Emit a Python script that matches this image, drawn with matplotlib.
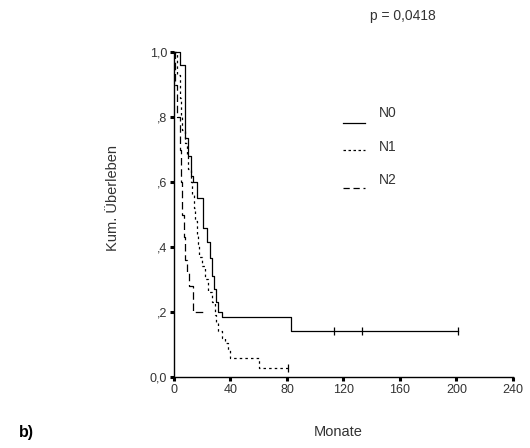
import matplotlib
matplotlib.use("Agg")
import matplotlib.pyplot as plt
from matplotlib.lines import Line2D

plt.rcParams['font.family'] = ['Liberation Sans', 'DejaVu Sans']

# Kaplan-Meier steps (months, cumulative survival)
n0_t = [0, 4, 8, 10, 12, 13.5, 16, 20.5, 23.5, 25.5, 27, 28, 30, 31.5, 34, 83, 201]
n0_s = [1.0, 0.96, 0.735, 0.68, 0.62, 0.60, 0.55, 0.46, 0.415, 0.366, 0.31, 0.27, 0.23, 0.20, 0.185, 0.142, 0.142]
n0_cens_t = [113, 133, 201]
n0_cens_s = [0.142, 0.142, 0.142]

n1_t = [0, 2, 4, 5, 6, 8, 9, 10, 12, 13, 14, 15, 16, 17, 18, 20, 22, 24, 27, 29, 30, 31, 34, 36, 38, 40, 60, 81]
n1_s = [1.0, 0.93, 0.86, 0.80, 0.76, 0.72, 0.68, 0.64, 0.60, 0.56, 0.52, 0.48, 0.44, 0.41, 0.37, 0.34,
        0.30, 0.26, 0.23, 0.19, 0.166, 0.14, 0.12, 0.105, 0.083, 0.058, 0.028, 0.028]
n1_cens_t = [81]
n1_cens_s = [0.028]

n2_t = [0, 1, 2, 4, 5, 6, 7, 8, 9, 10.5, 13.5, 20.5]
n2_s = [1.0, 0.9, 0.8, 0.7, 0.6, 0.5, 0.43, 0.36, 0.32, 0.28, 0.2, 0.2]

xticks = [0, 40, 80, 120, 160, 200, 240]
yticks = [0.0, 0.2, 0.4, 0.6, 0.8, 1.0]
ytick_labels = ["0,0", ",2", ",4", ",6", ",8", "1,0"]

fig = plt.figure(figsize=(5.3, 4.48), dpi=100)
ax = fig.add_axes([0.3283, 0.1585, 0.6396, 0.7254])

lw = 0.9
ax.step(n0_t, n0_s, where="post", color="black", lw=lw, clip_on=False)
ax.plot(n0_cens_t, n0_cens_s, ls="none", marker="|", ms=6, mew=0.9, color="black", clip_on=False)
ax.step(n1_t, n1_s, where="post", color="black", lw=lw, ls=(0, (2, 2.5)), clip_on=False)
ax.plot(n1_cens_t, n1_cens_s, ls="none", marker="|", ms=6, mew=0.9, color="black", clip_on=False)
ax.step(n2_t, n2_s, where="post", color="black", lw=lw, ls=(0, (6, 3)), clip_on=False)

ax.set_xlim(0, 240)
ax.set_ylim(0, 1.0)
for s in ["top", "right"]:
    ax.spines[s].set_visible(False)
for s in ["left", "bottom"]:
    ax.spines[s].set_linewidth(1.0)

ax.set_xticks(xticks)
ax.set_yticks(yticks)
ax.set_yticklabels(ytick_labels)
ax.tick_params(axis="both", direction="out", length=3, width=2.2, labelsize=9, colors="black", pad=2)
ax.tick_params(axis="x", labelcolor="#333333")
ax.tick_params(axis="y", labelcolor="#333333")

fig.text(113 / 530, 1 - 198 / 448, "Kum. Überleben", rotation=90, ha="center", va="center",
         fontsize=10.5, color="#333333")
fig.text(338 / 530, 1 - 432 / 448, "Monate", ha="center", va="center", fontsize=10.5, color="#333333")
fig.text(26 / 530, 1 - 432 / 448, "b)", ha="center", va="center", fontsize=11.5, fontweight="bold")
fig.text(403 / 530, 1 - 16 / 448, "p = 0,0418", ha="center", va="center", fontsize=10, color="#333333")

# legend drawn by hand, as in the SPSS output
legend = [("N0", "-", 123, 113), ("N1", (0, (2, 2)), 150, 147), ("N2", (0, (5, 3)), 188, 180)]
for name, style, ly, ty in legend:
    fig.add_artist(Line2D([343 / 530, 365 / 530], [1 - ly / 448, 1 - ly / 448],
                          color="black", lw=0.9, ls=style))
    fig.text(379 / 530, 1 - ty / 448, name, ha="left", va="center", fontsize=10, color="#333333")

fig.savefig("out.png", dpi=100)
